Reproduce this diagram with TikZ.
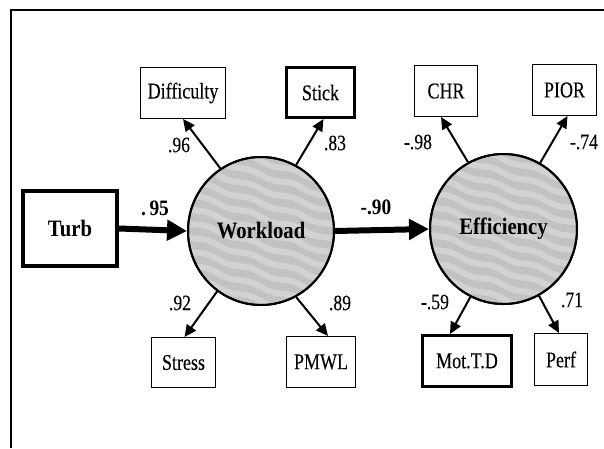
\documentclass[tikz,border=0pt]{standalone}
\usepackage{fontspec}
\setmainfont{Liberation Serif}
\newfontfamily\lblfont[FakeStretch=0.8,FakeBold=0.12]{Liberation Serif}
\newfontfamily\bldfont[FakeStretch=0.88]{Liberation Serif}
\usetikzlibrary{arrows.meta,shapes.geometric,decorations.pathmorphing}
\begin{document}
\begin{tikzpicture}[x=1pt,y=-1pt,
  obsbox/.style={draw, line width=1pt, inner sep=0pt, font=\lblfont\fontsize{22.5}{24}\selectfont},
  thickbox/.style={obsbox, line width=3pt},
  latent/.style={draw, ellipse, line width=2pt, fill=gray!48, inner sep=0pt},
  loadarrow/.style={line width=2pt, -{Triangle[length=12pt,width=11pt]}},
  patharrow/.style={line width=6pt, -{Triangle[length=20pt,width=20pt]}},
  coef/.style={font=\lblfont\fontsize{22}{24}\selectfont, inner sep=0pt},
  bcoef/.style={font=\bldfont\bfseries\fontsize{22}{24}\selectfont, inner sep=0pt},
  latfont/.style={font=\bldfont\bfseries\fontsize{23.5}{25}\selectfont},
  stripe/.style={white, opacity=0.28, line width=6pt, decorate,
     decoration={snake, amplitude=1.5pt, segment length=45pt}}
]
\useasboundingbox (0,0) rectangle (604,448);
\fill[white] (0,0) rectangle (604,448);
% frame
\draw[line width=2pt] (11,448) -- (11,10) -- (604,10);

% latent variables
\node[latent, minimum width=146pt, minimum height=148pt] (W) at (261,231) {};
\node[latent, minimum width=147pt, minimum height=150pt] (E) at (503.5,229) {};
\foreach \cx/\cy/\rx/\ry in {261/231/72/73, 503.5/229/72.5/74}{
  \begin{scope}
    \clip (\cx,\cy) ellipse [x radius=\rx, y radius=\ry];
    \foreach \k in {-9,...,9}{
      \draw[stripe] (\cx-110,\cy-35+\k*14) -- (\cx+110,\cy+35+\k*14);
    }
  \end{scope}
  \draw[line width=2pt] (\cx,\cy) ellipse [x radius=\rx+1, y radius=\ry+1];
}
\node[latfont] (Wlabel) at (W) {Workload};
\node[latfont] (Elabel) at (E) {Efficiency};

% observed variables
\node[draw, line width=4pt, minimum width=94pt, minimum height=75pt, inner sep=0pt, latfont]
      (Turb) at (70,228.5) {Turb};
\node[obsbox, minimum width=85pt, minimum height=51pt] (Dif) at (183,93) {Difficulty};
\node[thickbox, minimum width=68pt, minimum height=50pt] (Stick) at (320.5,92.5) {Stick};
\node[obsbox, minimum width=63pt, minimum height=51pt] (CHR) at (446,91) {CHR};
\node[obsbox, minimum width=64pt, minimum height=51pt] (PIOR) at (564.5,90) {PIOR};
\node[obsbox, minimum width=64pt, minimum height=50pt] (Stress) at (183.5,362.5) {Stress};
\node[obsbox, minimum width=69pt, minimum height=51pt] (PMWL) at (321,362) {PMWL};
\node[thickbox, minimum width=89pt, minimum height=51pt] (Mot) at (467,361) {Mot.T.D};
\node[obsbox, minimum width=53pt, minimum height=52pt] (Perf) at (561,359.5) {Perf};

% structural paths
\draw[patharrow] (Turb.east) -- (W.west);
\draw[patharrow] (W.east) -- (E.west);
\node[bcoef] (c95) at (155,208) {.\,95};
\node[bcoef] (c90) at (376,207) {-.90};

% loadings
\draw[loadarrow] (W.123) -- (Dif.south);
\draw[loadarrow] (W.62) -- ([xshift=3pt]Stick.south);
\draw[loadarrow] (W.-126) -- ([xshift=1pt]Stress.north);
\draw[loadarrow] (W.-62) -- ([xshift=7pt]PMWL.north);
\draw[loadarrow] (E.118) -- ([xshift=-5pt]CHR.south);
\draw[loadarrow] (E.61) -- ([xshift=3pt]PIOR.south);
\draw[loadarrow] (E.-116) -- ([xshift=-17pt]Mot.north);
\draw[loadarrow] (E.-62) -- ([xshift=-2pt]Perf.north);

\node[coef] (l96) at (179,145) {.96};
\node[coef] (l83) at (335,143) {.83};
\node[coef] (l98) at (418,142) {-.98};
\node[coef] (l74) at (584,142) {-.74};
\node[coef] (l92) at (180,303) {.92};
\node[coef] (l89) at (340,303) {.89};
\node[coef] (l59) at (435,302) {-.59};
\node[coef] (l71) at (572,300) {.71};
\end{tikzpicture}
\end{document}
